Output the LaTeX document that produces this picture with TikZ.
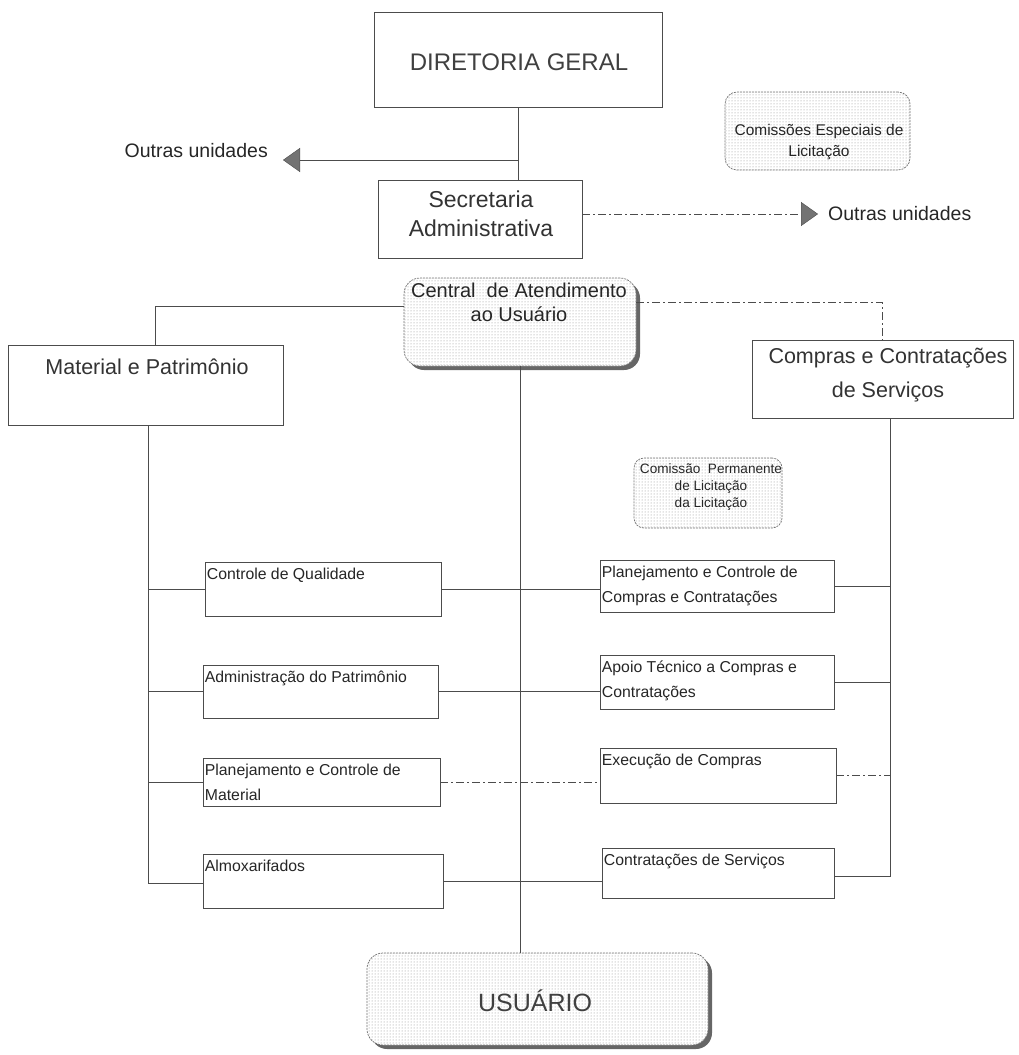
\documentclass[tikz,border=0pt]{standalone}
\usepackage{fontspec}
\setmainfont{Liberation Sans}
\usetikzlibrary{arrows.meta,patterns,shadows}
\begin{document}
\begin{tikzpicture}[x=1pt,y=-1pt,
  box/.style={draw=black!70, line width=0.6pt, fill=white, inner sep=0pt},
  conn/.style={draw=black!70, line width=0.6pt},
  dconn/.style={conn, dash pattern=on 8pt off 3pt on 2pt off 3pt},
  dotbox/.style={draw=black!55, dash pattern=on 2pt off 1pt, line width=0.7pt, rounded corners=12pt,
     preaction={fill=white}, pattern=dots, pattern color=black!45, inner sep=0pt},
  shadowbox/.style={draw=black!55, dash pattern=on 2pt off 1pt, line width=0.7pt, rounded corners=16pt,
     drop shadow={shadow xshift=4pt, shadow yshift=-4pt, fill=black!60, opacity=1},
     preaction={fill=white}, pattern=dots, pattern color=black!45, inner sep=0pt},
  big/.style={font=\fontsize{24}{28}\selectfont, text=black!75},
  mid/.style={font=\fontsize{21.5}{34}\selectfont, text=black!80, align=center},
  small/.style={font=\fontsize{15.8}{25}\selectfont, text=black!85, align=left, anchor=north west, inner sep=2pt, yshift=-4pt},
  tiny/.style={font=\fontsize{13}{17}\selectfont, text=black!85, align=center},
  tip/.style={-{Triangle[length=17pt,width=24pt,fill=black!55]}, draw=black!70},
  outra/.style={font=\fontsize{19.5}{22}\selectfont, text=black!85, inner sep=0pt}
]
\useasboundingbox (0,0) rectangle (1019,1055);

% Main boxes
\node[box, minimum width=288pt, minimum height=95pt] (dg) at (518,59.5) {};
\node[big] (dgt) at (519,62) {DIRETORIA GERAL};

\node[box, minimum width=204pt, minimum height=78pt] (sa) at (480,219) {};
\node[mid, font=\fontsize{23}{29}\selectfont] (sat) at (481,214) {Secretaria\\Administrativa};

\node[dotbox, minimum width=185pt, minimum height=78pt] (ce) at (817.5,131) {};
\node[tiny, font=\fontsize{15.5}{21}\selectfont] (cet) at (819,142) {Comissões Especiais de\\Licitação};

\node[shadowbox, minimum width=232pt, minimum height=88pt] (cau) at (520,322) {};
\node[tiny, font=\fontsize{20}{24}\selectfont, anchor=north] (caut) at (519,279) {Central\ \ de Atendimento\\ao Usuário};

\node[box, minimum width=275pt, minimum height=80pt] (mp) at (145.5,385) {};
\node[mid] (mpt) at (147,367) {Material e Patrimônio};

\node[box, minimum width=261pt, minimum height=78pt] (cc) at (882.5,379) {};
\node[mid] (cct) at (888,375) {Compras e Contratações\\de Serviços};

\node[dotbox, rounded corners=10pt, minimum width=148pt, minimum height=70pt] (cpl) at (708,493) {};
\node[tiny, font=\fontsize{13.6}{17}\selectfont] (cplt) at (711,487) {Comissão\ \ Permanente\\de Licitação\\da Licitação};

\node[shadowbox, minimum width=341pt, minimum height=92pt] (usu) at (537.5,999) {};
\node[big, font=\fontsize{25}{28}\selectfont] (usut) at (535,1001) {USUÁRIO};

% Left sub boxes
\node[box, minimum width=236pt, minimum height=54pt] (cq) at (323,589) {};
\node[small] at (cq.north west) {Controle de Qualidade};
\node[box, minimum width=235pt, minimum height=53pt] (ap) at (320.5,691.5) {};
\node[small] at (ap.north west) {Administração do Patrimônio};
\node[box, minimum width=237pt, minimum height=48pt] (pcm) at (321.5,782) {};
\node[small] at (pcm.north west) {Planejamento e Controle de\\Material};
\node[box, minimum width=240pt, minimum height=54pt] (alm) at (323,881) {};
\node[small] at (alm.north west) {Almoxarifados};

% Right sub boxes
\node[box, minimum width=234pt, minimum height=52pt] (pcc) at (717,586) {};
\node[small] at (pcc.north west) {Planejamento e Controle de\\Compras e Contratações};
\node[box, minimum width=234pt, minimum height=54pt] (at) at (717,682) {};
\node[small] at (at.north west) {Apoio Técnico a Compras e\\Contratações};
\node[box, minimum width=236pt, minimum height=55pt] (ec) at (718,775.5) {};
\node[small] at (ec.north west) {Execução de Compras};
\node[box, minimum width=232pt, minimum height=50pt] (cs) at (718,873) {};
\node[small] at (cs.north west) {Contratações de Serviços};

% Outras unidades
\node[outra, anchor=east] (ou1) at (268,151) {Outras unidades};
\node[outra, anchor=west] (ou2) at (828,214) {Outras unidades};
\coordinate (t1) at (283,160);
\coordinate (t2) at (818,214);
\coordinate (j1) at (518,160);

% Connectors
\draw[conn] (dg.south) -- (dg.south |- sa.north);
\draw[tip] (j1) -- (t1);
\draw[tip, dash pattern=on 8pt off 3pt on 2pt off 3pt] (sa.east |- t2) -- (t2);

\coordinate (mpj) at (155,306);
\draw[conn] (cau.west |- mpj) -- (mpj) -- (mpj |- mp.north);
\coordinate (ccj) at (882,302);
\draw[dconn] (cau.east |- ccj) -- (ccj) -- (ccj |- cc.north);

\draw[conn] (cau.south) -- (cau.south |- usu.north);

% left trunk
\coordinate (lt) at (148,883);
\draw[conn] (mp.south -| lt) -- (lt) -- (lt -| alm.west);
\draw[conn] (lt |- cq.west) -- (cq.west);
\draw[conn] (lt |- ap.west) -- (ap.west);
\draw[conn] (lt |- pcm.west) -- (pcm.west);

% right trunk
\coordinate (rt) at (890,876);
\draw[conn] (cc.south -| rt) -- (rt) -- (rt -| cs.east);
\draw[conn] (pcc.east) -- (pcc.east -| rt);
\draw[conn] (at.east) -- (at.east -| rt);
\draw[dconn] (ec.east) -- (ec.east -| rt);

% middle links
\draw[conn] (cq.east) -- (cq.east -| pcc.west);
\draw[conn] (ap.east) -- (ap.east -| at.west);
\draw[dconn] (pcm.east) -- (pcm.east -| ec.west);
\draw[conn] (alm.east) -- (alm.east -| cs.west);

\end{tikzpicture}
\end{document}
